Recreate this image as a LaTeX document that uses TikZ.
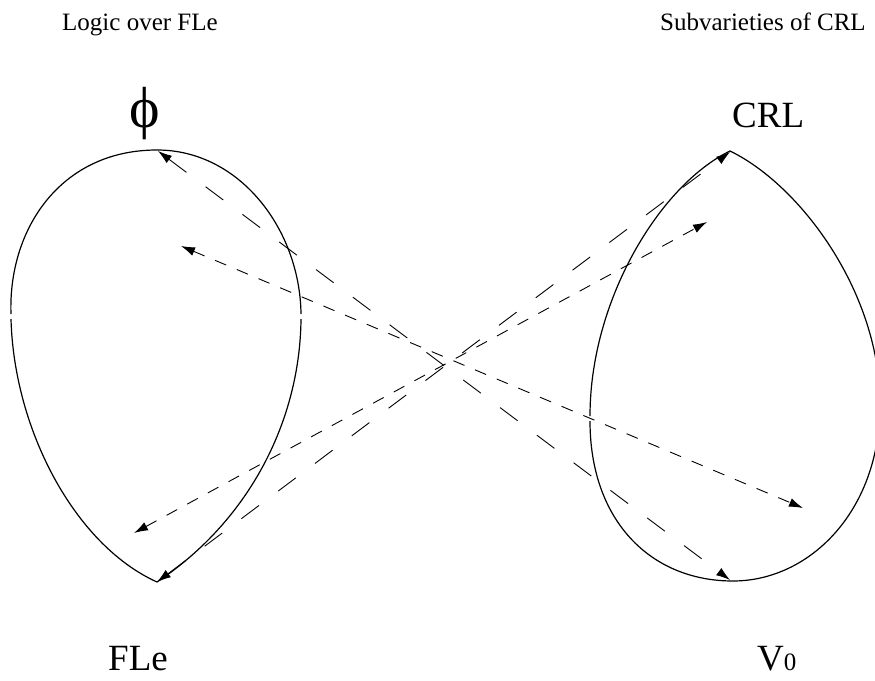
\documentclass[tikz,border=0pt]{standalone}
\usepackage{fontspec}
\setmainfont{Liberation Serif}
\usetikzlibrary{arrows.meta}
\begin{document}
\begin{tikzpicture}[x=1pt,y=-1pt,
  egg/.style={draw=black, line width=1.2pt},
  tipA/.tip={Latex[length=14pt,width=9pt]},
  longdash/.style={draw=black, line width=0.9pt, dash pattern=on 22pt off 24pt, {tipA}-{tipA}},
  shortdash/.style={draw=black, line width=0.9pt, dash pattern=on 12pt off 11.5pt, {tipA}-{tipA}},
  title/.style={inner sep=0pt, anchor=base west, font=\fontsize{25}{30}\selectfont},
  big/.style={inner sep=0pt, anchor=base west, font=\fontsize{37}{44}\selectfont}]
\useasboundingbox (0,0) rectangle (875,680);
\clip (0,0) rectangle (875,680);

% titles
\node[title] (tleft) at (62,30) {Logic over FLe};
\node[title] (tright) at (660,30) {Subvarieties of CRL};

% big labels
\node[inner sep=0pt, anchor=center, font=\fontsize{58}{66}\selectfont] (phi) at (145,114) {ϕ};
\node[big] (crl) at (732,127) {CRL};
\node[big] (fle) at (108,670) {FLe};
\node[big] (v0) at (757,670) {V{\fontsize{25}{30}\selectfont 0}};

% left egg (two pieces with small gaps)
\draw[egg] (11,314) .. controls (8,230) and (60,150) .. (157,150)
                   .. controls (240,150) and (300,230) .. (301,314);
\draw[egg] (11,319) .. controls (14,430) and (75,545) .. (157,582)
                   .. controls (250,520) and (300,420) .. (301,319);

% right egg
\draw[egg] (590,416) .. controls (590,300) and (660,185) .. (730,151)
                    .. controls (800,185) and (878,290) .. (880,400)
                    .. controls (882,510) and (810,581) .. (733,581)
                    .. controls (650,581) and (590,520) .. (590,421);

% arrow end points
\coordinate (aL) at (158,151);
\coordinate (aR) at (730,580);
\coordinate (bL) at (157,582);
\coordinate (bR) at (730,152);
\coordinate (cL) at (181,246);
\coordinate (cR) at (803,508);
\coordinate (dL) at (134,533);
\coordinate (dR) at (707,222);

\draw[longdash] (aL) -- (aR);
\draw[longdash] (bL) -- (bR);
\draw[shortdash] (cL) -- (cR);
\draw[shortdash] (dL) -- (dR);
\end{tikzpicture}
\end{document}
